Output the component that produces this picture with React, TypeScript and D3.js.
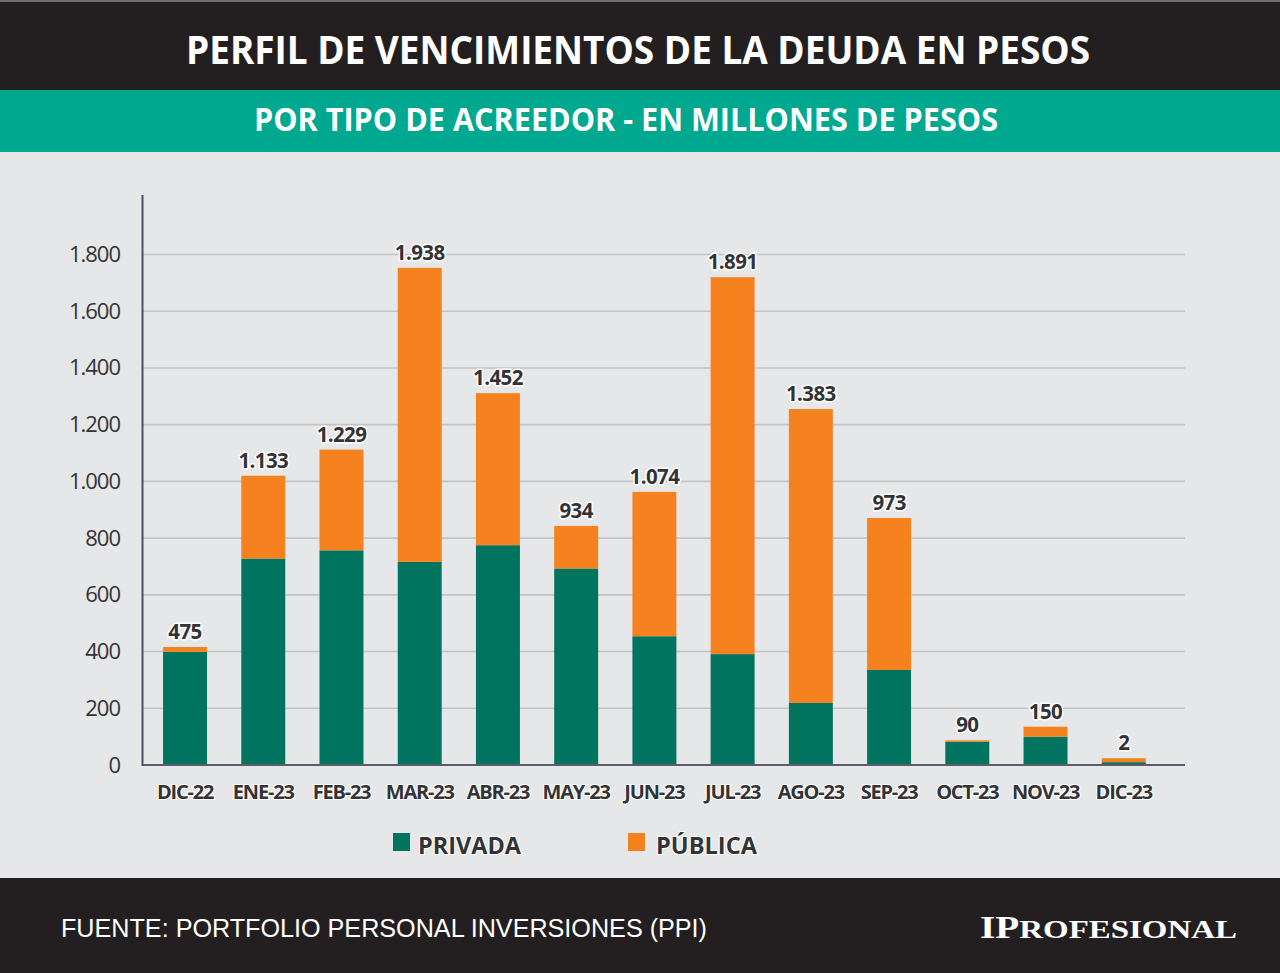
import React from "react";
import * as d3 from "d3";

const categories = ["DIC-22", "ENE-23", "FEB-23", "MAR-23", "ABR-23", "MAY-23", "JUN-23", "JUL-23", "AGO-23", "SEP-23", "OCT-23", "NOV-23", "DIC-23"];
const privada = [399, 728, 757, 716, 775, 693, 454, 391, 219, 335, 82, 100, 10];
const publica = [17, 292, 355, 1037, 536, 150, 509, 1329, 1036, 536, 5, 35, 14];
const totalLabels = ["475", "1.133", "1.229", "1.938", "1.452", "934", "1.074", "1.891", "1.383", "973", "90", "150", "2"];
const yTicks = [0, 200, 400, 600, 800, 1000, 1200, 1400, 1600, 1800];
const seriesNames = ["PRIVADA", "PÚBLICA"];

const W = 1280;
const H = 973;
const GREEN = "#00745f";
const ORANGE = "#f5821f";
const DARK = "#231f20";
const TEAL = "#00a88f";
const BG = "#e6e7e8";
const TXT = "#333336";

const fmtTick = (v: number) => d3.format(",")(v).replace(/,/g, ".");

export default function App() {
  const x = d3.scaleBand<string>().domain(categories).range([143.5, 1165.3]).paddingInner(0.438).paddingOuter(0.25);
  const y = d3.scaleLinear().domain([0, 1800]).range([765, 254.5]);

  const rows = categories.map((c, i) => ({ cat: c, privada: privada[i], publica: publica[i] }));
  const stack = d3.stack<any>().keys(["privada", "publica"])(rows);
  const colors = [GREEN, ORANGE];

  return (
    <div style={{ position: "absolute", left: 0, top: 0, width: W, height: H }}>
      <svg width={W} height={H} style={{ display: "block" }}>
        <rect x={0} y={0} width={W} height={H} fill={BG} />
        {/* header */}
        <rect x={0} y={0} width={W} height={90} fill={DARK} />
        <rect x={0} y={0} width={W} height={2} fill="#6d6e71" />
        <text x={638} y={64} fill="#fff" fontFamily="'Open Sans'" fontWeight={700} fontSize={40} textAnchor="middle" textLength={904} lengthAdjust="spacingAndGlyphs">
          PERFIL DE VENCIMIENTOS DE LA DEUDA EN PESOS
        </text>
        <rect x={0} y={90} width={W} height={62} fill={TEAL} />
        <text x={626} y={131} fill="#fff" fontFamily="'Open Sans'" fontWeight={700} fontSize={31.5} textAnchor="middle" textLength={744} lengthAdjust="spacingAndGlyphs">
          POR TIPO DE ACREEDOR - EN MILLONES DE PESOS
        </text>

        {/* gridlines */}
        {yTicks.filter((t) => t > 0).map((t) => (
          <line key={t} x1={142} x2={1185} y1={y(t)} y2={y(t)} stroke="#c3c4c6" strokeWidth={1.6} />
        ))}
        {/* y tick labels */}
        {yTicks.map((t) => (
          <text key={"l" + t} x={120} y={y(t) + 7.5} textAnchor="end" fontFamily="'Open Sans'" fontSize={22} letterSpacing={-1} fill={TXT}>
            {fmtTick(t)}
          </text>
        ))}

        {/* bars */}
        {stack.map((layer, li) =>
          layer.map((d, i) => (
            <rect
              key={li + "-" + i}
              x={x(categories[i])}
              width={x.bandwidth()}
              y={y(d[1])}
              height={Math.max(0, y(d[0]) - y(d[1]))}
              fill={colors[li]}
            />
          ))
        )}

        {/* axes */}
        <line x1={142} x2={1185} y1={765} y2={765} stroke="#5c5d6b" strokeWidth={2} />
        <line x1={142.5} x2={142.5} y1={195} y2={766} stroke="#4e4f5e" strokeWidth={2} />

        {/* value labels */}
        {categories.map((c, i) => (
          <text
            key={"v" + c}
            x={(x(c) as number) + x.bandwidth() / 2}
            y={y(privada[i] + publica[i]) - 8}
            textAnchor="middle"
            fontFamily="'Open Sans'"
            fontWeight={700}
            fontSize={20.5}
            letterSpacing={-0.6}
            fill={TXT}
            stroke="#ffffff"
            strokeWidth={3}
            paintOrder="stroke"
            strokeLinejoin="round"
          >
            {totalLabels[i]}
          </text>
        ))}

        {/* x labels */}
        {categories.map((c) => (
          <text
            key={"x" + c}
            x={(x(c) as number) + x.bandwidth() / 2}
            y={799}
            textAnchor="middle"
            fontFamily="'Open Sans'"
            fontWeight={700}
            fontSize={20}
            letterSpacing={-1.2}
            fill={TXT}
            stroke="#ffffff"
            strokeWidth={2}
            paintOrder="stroke"
          >
            {c}
          </text>
        ))}

        {/* legend */}
        <rect x={393} y={833} width={17} height={18} fill={GREEN} />
        <text x={418} y={854} fontFamily="'Open Sans'" fontWeight={700} fontSize={24} textLength={103} lengthAdjust="spacingAndGlyphs" fill={TXT} stroke="#fff" strokeWidth={2} paintOrder="stroke">
          {seriesNames[0]}
        </text>
        <rect x={628} y={833} width={17} height={18} fill={ORANGE} />
        <text x={656} y={854} fontFamily="'Open Sans'" fontWeight={700} fontSize={24} textLength={101} lengthAdjust="spacingAndGlyphs" fill={TXT} stroke="#fff" strokeWidth={2} paintOrder="stroke">
          {seriesNames[1]}
        </text>

        {/* footer */}
        <rect x={0} y={878} width={W} height={95} fill={DARK} />
        <text x={61} y={937} fontFamily="'Liberation Sans', Arial" fontSize={26} textLength={646} lengthAdjust="spacingAndGlyphs" fill="#fff">
          FUENTE: PORTFOLIO PERSONAL INVERSIONES (PPI)
        </text>
        <text x={980} y={938} fontFamily="'Liberation Serif', 'DejaVu Serif'" fontWeight={700} fill="#fff" textLength={257} lengthAdjust="spacingAndGlyphs">
          <tspan fontSize={31}>IP</tspan>
          <tspan fontSize={26}>ROFESIONAL</tspan>
        </text>
      </svg>
    </div>
  );
}
